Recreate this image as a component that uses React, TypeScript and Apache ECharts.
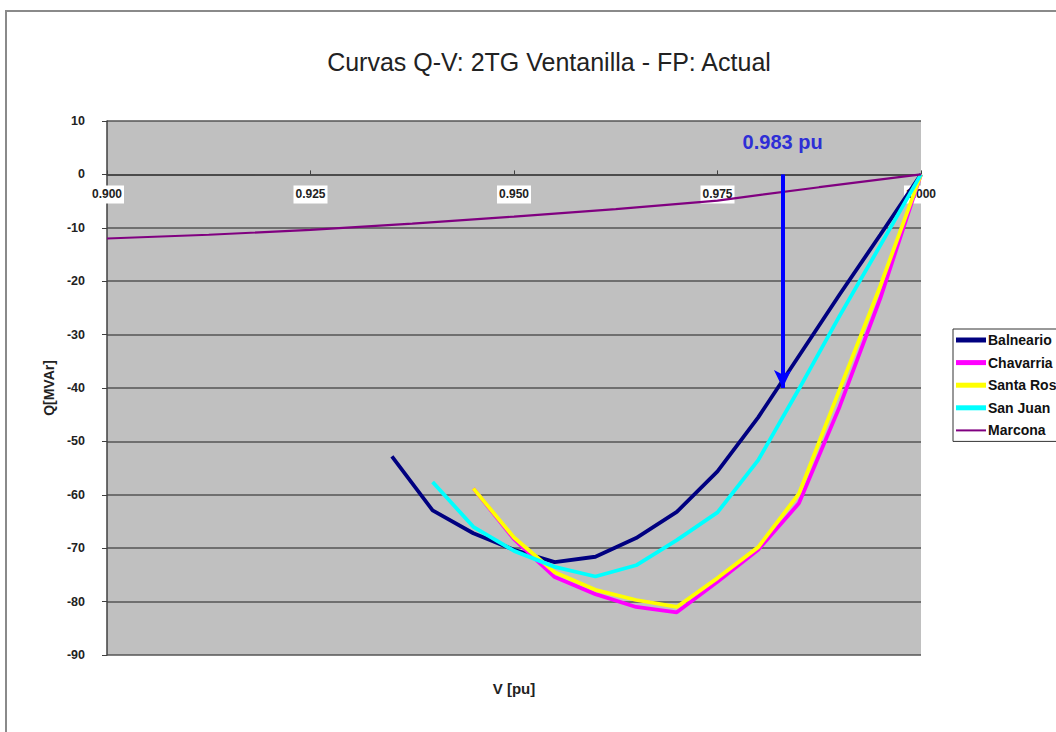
import React, { useEffect, useRef } from "react";
import * as echarts from "echarts";

// Q-V curves, voltage in pu against reactive power in MVAr
const seriesNames = ["Balneario", "Chavarria", "Santa Rosa", "San Juan", "Marcona"];
const seriesColors = ["#000080", "#FF00FF", "#FFFF00", "#00FFFF", "#800080"];

const vBalneario = [0.935, 0.94, 0.945, 0.95, 0.955, 0.96, 0.965, 0.97, 0.975, 0.98, 0.985, 0.99, 0.995, 1.0];
const qBalneario = [-52.8, -62.9, -67.2, -70.3, -72.6, -71.6, -68.1, -63.2, -55.6, -45.5, -34.0, -22.5, -11.3, 0];

const vChavarria = [0.945, 0.95, 0.955, 0.96, 0.965, 0.97, 0.975, 0.98, 0.985, 0.99, 0.995, 1.0];
const qChavarria = [-58.8, -68.3, -75.4, -78.6, -81.0, -82.0, -76.3, -70.3, -61.6, -43.5, -23.2, 0];

const vSantaRosa = [0.945, 0.95, 0.955, 0.96, 0.965, 0.97, 0.975, 0.98, 0.985, 0.99, 0.995, 1.0];
const qSantaRosa = [-58.8, -68.0, -74.5, -77.8, -79.7, -81.0, -75.6, -69.8, -59.8, -40.3, -20.9, 0];

const vSanJuan = [0.94, 0.945, 0.95, 0.955, 0.96, 0.965, 0.97, 0.975, 0.98, 0.985, 0.99, 0.995, 1.0];
const qSanJuan = [-57.6, -66.0, -70.5, -73.5, -75.3, -73.2, -68.5, -63.3, -53.5, -40.2, -26.5, -13.3, 0];

const vMarcona = [0.9, 0.9125, 0.925, 0.9375, 0.95, 0.9625, 0.975, 0.9875, 1.0];
const qMarcona = [-12.0, -11.3, -10.4, -9.2, -7.9, -6.5, -4.9, -2.4, 0];

// Marked operating limit
const limitV = 0.983;
const limitQ = -40;
const limitLabel = "0.983 pu";

// Axis ranges
const V_MIN = 0.9;
const V_MAX = 1.0;
const V_STEP = 0.025;
const Q_MIN = -90;
const Q_MAX = 10;
const Q_STEP = 10;
const xTickDecimals = 3;

// Plot area
const GRID = { left: 107, right: 135, top: 121, bottom: 77 };
const HEIGHT = 732;

const FONT = "'Liberation Sans', Arial, sans-serif";

const pairs = (v: number[], q: number[]) => v.map((x, i) => [x, q[i]]);

export default function App() {
  const ref = useRef<HTMLDivElement>(null);

  useEffect(() => {
    if (!ref.current) return;
    const chart = echarts.init(ref.current, undefined, { renderer: "svg" });

    const vs = [vBalneario, vChavarria, vSantaRosa, vSanJuan, vMarcona];
    const qs = [qBalneario, qChavarria, qSantaRosa, qSanJuan, qMarcona];

    const series: any[] = seriesNames.map((name, i) => ({
      name,
      type: "line",
      data: pairs(vs[i], qs[i]),
      symbol: "none",
      color: seriesColors[i],
      lineStyle: { color: seriesColors[i], width: i === 4 ? 2.2 : 3.8 },
    }));

    series[4].markLine = {
      silent: true,
      symbol: ["none", "arrow"],
      symbolSize: [13, 18],
      lineStyle: { color: "#0000FF", width: 4, type: "solid" },
      label: {
        show: true,
        position: "start",
        formatter: limitLabel,
        distance: 22,
        color: "#2E2ED6",
        fontSize: 20,
        fontWeight: "bold",
        fontFamily: FONT,
      },
      data: [[{ coord: [limitV, 0] }, { coord: [limitV, limitQ] }]],
    };

    // the V axis crosses the Q axis at Q = 0
    const plotHeight = HEIGHT - GRID.top - GRID.bottom;
    const zeroOffset = -plotHeight * ((0 - Q_MIN) / (Q_MAX - Q_MIN));

    const legendIcon = (thick: number) => `path://M0,0H30V${thick}H0Z`;

    chart.setOption({
      animation: false,
      backgroundColor: "#ffffff",
      textStyle: { fontFamily: FONT },
      grid: {
        ...GRID,
        show: true,
        backgroundColor: "#C0C0C0",
        borderWidth: 0,
      },
      legend: {
        data: seriesNames.map((name, i) => ({ name, icon: legendIcon(i === 4 ? 2 : 5) })),
        orient: "vertical",
        left: 953,
        top: 329,
        itemWidth: 30,
        itemHeight: 14,
        itemGap: 8.6,
        padding: [4, 4, 4, 3],
        borderColor: "#333",
        borderWidth: 1,
        backgroundColor: "#fff",
        textStyle: { fontSize: 14, fontWeight: "bold", color: "#111", fontFamily: FONT, padding: [0, 0, 0, -3] },
      },
      xAxis: {
        type: "value",
        min: V_MIN,
        max: V_MAX,
        interval: V_STEP,
        position: "bottom",
        offset: zeroOffset,
        axisLine: { onZero: false, lineStyle: { color: "#404040", width: 1.5 } },
        axisTick: { inside: true, length: 4, lineStyle: { color: "#404040" } },
        axisLabel: {
          formatter: (v: number) => v.toFixed(xTickDecimals),
          backgroundColor: "#ffffff",
          padding: [3, 2, 3, 2],
          fontSize: 12,
          fontWeight: "bold",
          color: "#222",
          margin: 11,
        },
        splitLine: { show: false },
      },
      yAxis: {
        type: "value",
        min: Q_MIN,
        max: Q_MAX,
        interval: Q_STEP,
        name: "Q[MVAr]",
        nameLocation: "middle",
        nameGap: 41,
        nameTextStyle: { fontSize: 14, fontWeight: "bold", color: "#222", fontFamily: FONT },
        axisLine: { show: true, onZero: false, lineStyle: { color: "#404040", width: 1.5 } },
        axisTick: { show: true, length: 5, lineStyle: { color: "#404040" } },
        axisLabel: { fontSize: 12.5, fontWeight: "bold", color: "#222", margin: 22 },
        splitLine: { show: true, showMinLine: true, showMaxLine: true, lineStyle: { color: "#555555", width: 1.5 } },
      },
      graphic: [
        {
          type: "rect",
          shape: { x: 6, y: 11, width: 1200, height: 900 },
          style: { fill: "none", stroke: "#8a8a8a", lineWidth: 2 },
          silent: true,
        },
        {
          type: "text",
          x: 549,
          y: 62,
          style: {
            text: "Curvas Q-V: 2TG Ventanilla - FP: Actual",
            fontSize: 25,
            fontFamily: FONT,
            fill: "#222",
            align: "center",
            verticalAlign: "middle",
          },
        },
        {
          type: "text",
          x: 514,
          y: 688,
          style: {
            text: "V [pu]",
            fontSize: 15,
            fontWeight: "bold",
            fontFamily: FONT,
            fill: "#222",
            align: "center",
            verticalAlign: "middle",
          },
        },
      ],
      series,
    });

    return () => chart.dispose();
  }, []);

  return (
    <div
      ref={ref}
      style={{ position: "absolute", left: 0, top: 0, width: 1056, height: 732, background: "#fff" }}
    />
  );
}
